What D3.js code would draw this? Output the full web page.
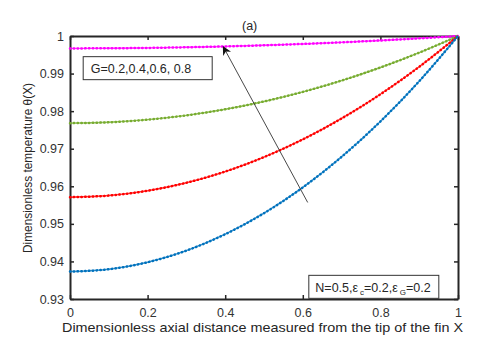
<!DOCTYPE html>
<html><head><meta charset="utf-8">
<script src="https://cdn.jsdelivr.net/npm/d3@7"></script>
<style>body{margin:0;background:#fff}svg{display:block}text{font-family:Arial,"Liberation Sans",sans-serif;fill:#262626}</style>
</head><body>
<script>
const xValues = [0,0.1,0.2,0.3,0.4,0.5,0.6,0.7,0.8,0.9,1.0];
const seriesG08 = [0.9967,0.99673,0.99683,0.99700,0.99723,0.99752,0.99789,0.99831,0.99881,0.99937,1.0];
const seriesG06 = [0.9768,0.97703,0.97773,0.97888,0.98050,0.98258,0.98513,0.98814,0.99162,0.99557,1.0];
const seriesG04 = [0.9571,0.95753,0.95881,0.96094,0.96392,0.96777,0.97248,0.97805,0.98449,0.99181,1.0];
const seriesG02 = [0.9373,0.93792,0.93978,0.94288,0.94724,0.95284,0.95970,0.96784,0.97726,0.98797,1.0];
const seriesNames = ["G=0.8","G=0.6","G=0.4","G=0.2"];
const seriesColors = ["#ff00ff","#77ac30","#ff0000","#0072bd"];
const xTicks = [0,0.2,0.4,0.6,0.8,1];
const yTicks = [0.93,0.94,0.95,0.96,0.97,0.98,0.99,1];
const arrowFrom = [0.6126,0.9557];
const arrowTo = [0.395,0.99715];
const titleText = "(a)";
const xLabel = "Dimensionless axial distance measured from the tip of the fin X";
const yLabel = "Dimensionless temperature \u03b8(X)";
const legendText1 = "G=0.2,0.4,0.6, 0.8";

const W=480,H=341, L=70,R=458,T=36,B=299;
const svg=d3.select("body").append("svg").attr("width",W).attr("height",H);
const x=d3.scaleLinear().domain([0,1]).range([L,R]);
const y=d3.scaleLinear().domain([0.93,1]).range([B,T]);

// axes
const ax=svg.append("g").attr("transform",`translate(0,${B})`).call(d3.axisBottom(x).tickValues(xTicks).tickSizeInner(-4).tickSizeOuter(0).tickPadding(9).tickFormat(d3.format("")));
const ay=svg.append("g").attr("transform",`translate(${L},0)`).call(d3.axisLeft(y).tickValues(yTicks).tickSizeInner(-4).tickSizeOuter(0).tickPadding(6).tickFormat(d=>d3.format("")(+d.toFixed(2))));
const at=svg.append("g").attr("transform",`translate(0,${T})`).call(d3.axisTop(x).tickValues(xTicks).tickSizeInner(-4).tickSizeOuter(0).tickFormat(""));
const ar=svg.append("g").attr("transform",`translate(${R},0)`).call(d3.axisRight(y).tickValues(yTicks).tickSizeInner(-4).tickSizeOuter(0).tickFormat(""));
[ax,ay,at,ar].forEach(g=>{g.select(".domain").attr("stroke","#262626").attr("stroke-width",2);g.selectAll(".tick line").attr("stroke","#262626").attr("stroke-width",1.5);g.selectAll("text").attr("font-size",12.5).style("fill","#333");});

// series
const all=[seriesG08,seriesG06,seriesG04,seriesG02];
const line=d3.line().x((d,i)=>x(xValues[i])).y(d=>y(d)).curve(d3.curveMonotoneX);
all.forEach((s,k)=>{
  svg.append("path").datum(s).attr("d",line).attr("fill","none").attr("stroke",seriesColors[k]).attr("stroke-width",1.4).attr("opacity",0.75);
  svg.append("path").datum(s).attr("d",line).attr("fill","none").attr("stroke",seriesColors[k]).attr("stroke-width",2.5).attr("stroke-linecap","round").attr("stroke-dasharray","0.4,3.4");
});

// arrow
const defs=svg.append("defs");
defs.append("marker").attr("id","ah").attr("viewBox","0 0 10 10").attr("refX",9).attr("refY",5).attr("markerWidth",11).attr("markerHeight",9).attr("markerUnits","userSpaceOnUse").attr("orient","auto")
 .append("path").attr("d","M0,0 L10,5 L0,10 L3,5 Z").attr("fill","#111");
svg.append("line").attr("x1",x(arrowFrom[0])).attr("y1",y(arrowFrom[1])).attr("x2",x(arrowTo[0])).attr("y2",y(arrowTo[1])).attr("stroke","#333").attr("stroke-width",0.9).attr("marker-end","url(#ah)");

// legend box 1
const b1x=x(0.034), b1y=y(0.9945);
svg.append("rect").attr("x",b1x).attr("y",b1y).attr("width",129).attr("height",23).attr("fill","#fff").attr("stroke","#333").attr("stroke-width",1);
svg.append("text").attr("x",b1x+7.5).attr("y",b1y+16).attr("font-size",12.5).text(legendText1);

// legend box 2
const b2x=x(0.6155), b2y=y(0.9363);
svg.append("rect").attr("x",b2x).attr("y",b2y).attr("width",130).attr("height",23).attr("fill","#fff").attr("stroke","#333").attr("stroke-width",1);
const t2=svg.append("text").attr("x",b2x+6.5).attr("y",b2y+17).attr("font-size",12.5);
t2.append("tspan").text("N=0.5,\u03b5");
t2.append("tspan").attr("font-size",8).attr("dy",3).attr("dx",2).text("c");
t2.append("tspan").attr("dy",-3).text("=0.2,\u03b5");
t2.append("tspan").attr("font-size",8).attr("dy",3).attr("dx",2).text("G");
t2.append("tspan").attr("dy",-3).text("=0.2");

// titles
svg.append("text").attr("x",242).attr("y",29.5).attr("font-size",12.5).text(titleText);
svg.append("text").attr("x",62).attr("y",332).attr("font-size",13).attr("textLength",401).attr("lengthAdjust","spacingAndGlyphs").text(xLabel);
svg.append("text").attr("transform",`translate(32,253) rotate(-90)`).attr("font-size",12.5).attr("textLength",170).attr("lengthAdjust","spacingAndGlyphs").text(yLabel);
</script>
</body></html>
